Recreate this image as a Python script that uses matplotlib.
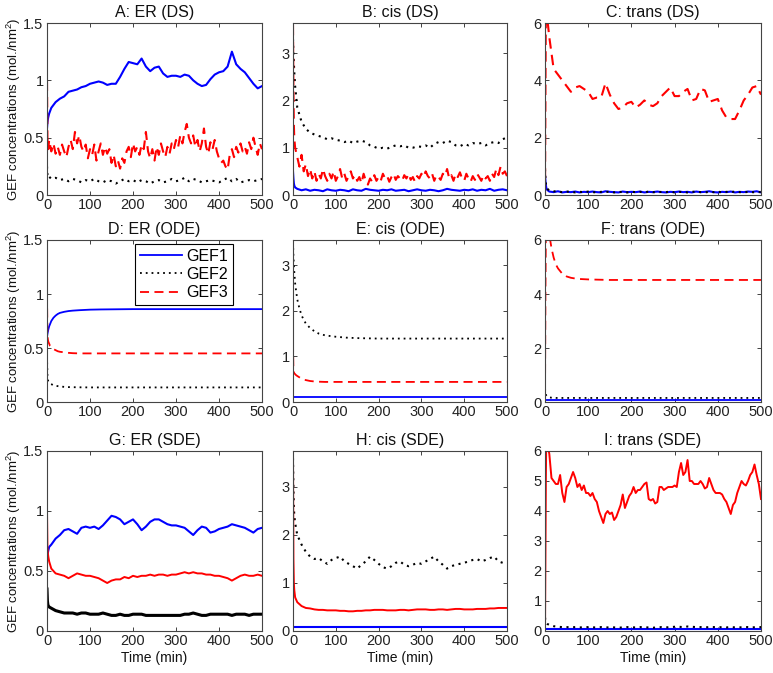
import matplotlib
matplotlib.use('Agg')
import matplotlib.pyplot as plt
from matplotlib.ticker import FuncFormatter

plt.rcParams['font.family'] = ['Liberation Sans', 'DejaVu Sans']
plt.rcParams['mathtext.default'] = 'regular'

# ---------------- time grids ----------------
t_fine = [0, 1, 2, 3] + list(range(5, 505, 5))          # 104 points
t_coarse = [0, 1, 2, 3, 5] + list(range(10, 510, 10))   # 55 points
t_ode = [0, 1, 2, 3, 5, 7, 10, 15, 20, 25, 30, 40, 50, 60, 75, 100,
         125, 150, 200, 250, 300, 350, 400, 450, 500]    # 25 points

titles = ['A: ER (DS)', 'B: cis (DS)', 'C: trans (DS)',
          'D: ER (ODE)', 'E: cis (ODE)', 'F: trans (ODE)',
          'G: ER (SDE)', 'H: cis (SDE)', 'I: trans (SDE)']
series_names = ['GEF1', 'GEF2', 'GEF3']

# ---------------- A: ER (DS) ----------------
A_gef1 = [0.58, 0.63, 0.66, 0.68, 0.71,
          0.76, 0.81, 0.84, 0.86, 0.90, 0.91, 0.92, 0.94, 0.95, 0.97,
          0.98, 0.99, 0.98, 0.96, 0.97, 0.97, 1.03, 1.10, 1.16, 1.15,
          1.14, 1.19, 1.12, 1.08, 1.11, 1.12, 1.06, 1.03, 1.04, 1.04,
          1.03, 1.05, 1.04, 1.00, 0.97, 0.95, 0.96, 1.01, 1.05, 1.07,
          1.08, 1.12, 1.25, 1.14, 1.10, 1.07, 1.02, 0.97, 0.93, 0.95]
A_gef2 = [0.25, 0.18, 0.16, 0.15, 0.16,
          0.14, 0.15, 0.13, 0.14, 0.12, 0.14, 0.13, 0.11, 0.13, 0.12,
          0.14, 0.12, 0.11, 0.13, 0.12, 0.10, 0.12, 0.14, 0.12, 0.13,
          0.11, 0.13, 0.12, 0.10, 0.12, 0.13, 0.11, 0.12, 0.14, 0.12,
          0.13, 0.15, 0.12, 0.14, 0.13, 0.11, 0.12, 0.13, 0.12, 0.11,
          0.13, 0.15, 0.12, 0.14, 0.11, 0.12, 0.13, 0.12, 0.13, 0.14]
A_gef3 = [1.00, 0.50, 0.45, 0.40,
          0.48, 0.38, 0.45, 0.36, 0.42, 0.35, 0.44, 0.38, 0.33, 0.42,
          0.48, 0.40, 0.55, 0.45, 0.52, 0.42, 0.38, 0.44, 0.32, 0.40,
          0.35, 0.44, 0.30, 0.38, 0.45, 0.35, 0.42, 0.36, 0.40, 0.28,
          0.35, 0.25, 0.30, 0.23, 0.32, 0.28, 0.38, 0.42, 0.33, 0.45,
          0.38, 0.42, 0.35, 0.44, 0.40, 0.55, 0.38, 0.32, 0.40, 0.30,
          0.42, 0.35, 0.45, 0.38, 0.33, 0.42, 0.36, 0.45, 0.40, 0.48,
          0.42, 0.52, 0.45, 0.55, 0.62, 0.50, 0.45, 0.52, 0.42, 0.48,
          0.38, 0.45, 0.58, 0.42, 0.36, 0.46, 0.40, 0.48, 0.38, 0.32,
          0.28, 0.30, 0.25, 0.22, 0.35, 0.40, 0.33, 0.42, 0.37, 0.45,
          0.38, 0.42, 0.36, 0.46, 0.40, 0.50, 0.42, 0.35, 0.45, 0.40]

# ---------------- B: cis (DS) ----------------
B_gef1 = [0.50, 0.35, 0.25, 0.20, 0.16,
          0.13, 0.10, 0.12, 0.09, 0.11, 0.10, 0.08, 0.12, 0.10, 0.09,
          0.11, 0.10, 0.08, 0.12, 0.10, 0.09, 0.13, 0.11, 0.10, 0.09,
          0.11, 0.10, 0.12, 0.09, 0.10, 0.11, 0.08, 0.10, 0.12, 0.10,
          0.09, 0.11, 0.10, 0.08, 0.10, 0.13, 0.11, 0.10, 0.09, 0.11,
          0.10, 0.12, 0.09, 0.11, 0.10, 0.13, 0.09, 0.11, 0.12, 0.10]
B_gef2 = [3.30, 3.00, 2.80, 2.60, 2.30,
          1.85, 1.55, 1.40, 1.32, 1.28, 1.25, 1.22, 1.18, 1.20, 1.17,
          1.15, 1.12, 1.15, 1.10, 1.13, 1.15, 1.12, 1.05, 1.02, 0.98,
          1.00, 0.98, 1.02, 1.05, 1.03, 1.05, 1.00, 1.00, 1.03, 1.02,
          1.05, 1.00, 1.08, 1.12, 1.10, 1.15, 1.12, 1.05, 1.03, 1.08,
          1.05, 1.10, 1.08, 1.10, 1.05, 1.10, 1.12, 1.10, 1.18, 1.22]
B_gef3 = [3.60, 2.20, 1.50, 1.20,
          1.00, 0.80, 0.60, 0.85, 0.50, 0.65, 0.40, 0.55, 0.35, 0.50,
          0.30, 0.45, 0.35, 0.55, 0.40, 0.30, 0.45, 0.35, 0.50, 0.30,
          0.40, 0.55, 0.35, 0.45, 0.30, 0.40, 0.50, 0.35, 0.42, 0.30,
          0.38, 0.25, 0.45, 0.30, 0.22, 0.35, 0.28, 0.42, 0.30, 0.38,
          0.30, 0.45, 0.35, 0.40, 0.28, 0.38, 0.45, 0.32, 0.40, 0.35,
          0.30, 0.42, 0.35, 0.45, 0.32, 0.38, 0.28, 0.40, 0.35, 0.45,
          0.38, 0.50, 0.40, 0.35, 0.45, 0.30, 0.42, 0.38, 0.32, 0.45,
          0.40, 0.55, 0.35, 0.42, 0.30, 0.45, 0.38, 0.48, 0.35, 0.30,
          0.45, 0.35, 0.28, 0.40, 0.32, 0.45, 0.38, 0.30, 0.42, 0.35,
          0.40, 0.30, 0.45, 0.38, 0.55, 0.42, 0.60, 0.45, 0.50, 0.40]

# ---------------- C: trans (DS) ----------------
C_gef1 = [0.70, 0.50, 0.35, 0.25, 0.18,
          0.12, 0.10, 0.13, 0.09, 0.11, 0.10, 0.12, 0.09, 0.11, 0.10,
          0.12, 0.10, 0.09, 0.13, 0.11, 0.10, 0.09, 0.12, 0.10, 0.11,
          0.10, 0.12, 0.09, 0.11, 0.10, 0.12, 0.10, 0.09, 0.11, 0.10,
          0.12, 0.10, 0.11, 0.09, 0.12, 0.10, 0.11, 0.13, 0.10, 0.09,
          0.11, 0.10, 0.12, 0.09, 0.11, 0.10, 0.12, 0.11, 0.13, 0.09]
C_gef2 = [0.90, 0.60, 0.40, 0.30, 0.22,
          0.16, 0.13, 0.12, 0.10, 0.12, 0.11, 0.09, 0.11, 0.10, 0.12,
          0.10, 0.09, 0.11, 0.10, 0.12, 0.09, 0.11, 0.10, 0.09, 0.11,
          0.10, 0.11, 0.09, 0.12, 0.10, 0.09, 0.11, 0.10, 0.12, 0.09,
          0.11, 0.10, 0.09, 0.11, 0.12, 0.10, 0.09, 0.11, 0.10, 0.12,
          0.09, 0.11, 0.10, 0.12, 0.10, 0.09, 0.11, 0.10, 0.09, 0.11]
C_gef3 = [0.00, 3.50, 6.50, 6.80, 6.20,
          5.50, 4.40, 4.20, 4.00, 3.80, 3.60, 3.75, 3.80, 3.70, 3.60,
          3.35, 3.40, 3.40, 3.90, 3.50, 3.20, 3.00, 3.05, 3.20, 3.25,
          3.05, 3.15, 3.30, 3.15, 3.10, 3.20, 3.45, 3.60, 3.75, 3.45,
          3.45, 3.60, 3.70, 3.30, 3.35, 3.70, 3.65, 3.25, 3.30, 3.35,
          2.95, 2.70, 2.65, 2.65, 2.95, 3.30, 3.50, 3.75, 3.80, 3.50]

# ---------------- D: ER (ODE) ----------------
D_gef1 = [0.60, 0.63, 0.65, 0.67, 0.70, 0.72, 0.75, 0.78, 0.80, 0.815,
          0.825, 0.835, 0.842, 0.846, 0.85, 0.855, 0.857, 0.858, 0.86,
          0.86, 0.86, 0.86, 0.86, 0.86, 0.86]
D_gef2 = [0.42, 0.25, 0.21, 0.19, 0.18, 0.17, 0.165, 0.155, 0.15, 0.147,
          0.144, 0.14, 0.138, 0.137, 0.136, 0.135, 0.135, 0.135, 0.135,
          0.135, 0.135, 0.135, 0.135, 0.135, 0.135]
D_gef3 = [1.00, 0.62, 0.58, 0.56, 0.54, 0.52, 0.51, 0.49, 0.48, 0.47,
          0.465, 0.46, 0.455, 0.452, 0.45, 0.45, 0.45, 0.45, 0.45,
          0.45, 0.45, 0.45, 0.45, 0.45, 0.45]

# ---------------- E: cis (ODE) ----------------
E_gef1 = [0.10] * 25
E_gef2 = [3.50, 3.20, 3.00, 2.85, 2.60, 2.45, 2.25, 2.05, 1.90, 1.80,
          1.72, 1.62, 1.55, 1.50, 1.46, 1.43, 1.41, 1.40, 1.39, 1.39,
          1.39, 1.39, 1.39, 1.39, 1.39]
E_gef3 = [1.30, 0.68, 0.65, 0.63, 0.61, 0.59, 0.57, 0.54, 0.51, 0.49,
          0.48, 0.46, 0.45, 0.445, 0.44, 0.44, 0.44, 0.44, 0.44, 0.44,
          0.44, 0.44, 0.44, 0.44, 0.44]

# ---------------- F: trans (ODE) ----------------
F_gef1 = [0.07] * 25
F_gef2 = [0.50, 0.35, 0.28, 0.24, 0.20, 0.18, 0.17, 0.16, 0.155, 0.15,
          0.15, 0.15, 0.15, 0.15, 0.15, 0.15, 0.15, 0.15, 0.15, 0.15,
          0.15, 0.15, 0.15, 0.15, 0.15]
F_gef3 = [0.00, 4.00, 6.30, 6.50, 6.50, 6.40, 6.20, 5.70, 5.35, 5.10,
          4.95, 4.75, 4.65, 4.60, 4.56, 4.54, 4.53, 4.52, 4.52, 4.52,
          4.52, 4.52, 4.52, 4.52, 4.52]

# ---------------- G: ER (SDE) ----------------
G_gef1 = [0.60, 0.63, 0.65, 0.67, 0.70,
          0.72, 0.77, 0.80, 0.84, 0.85, 0.83, 0.81, 0.86, 0.87, 0.86,
          0.87, 0.85, 0.88, 0.92, 0.96, 0.95, 0.93, 0.89, 0.91, 0.93,
          0.89, 0.84, 0.87, 0.91, 0.93, 0.93, 0.91, 0.89, 0.88, 0.88,
          0.87, 0.86, 0.83, 0.80, 0.84, 0.87, 0.86, 0.82, 0.83, 0.85,
          0.86, 0.87, 0.89, 0.88, 0.87, 0.86, 0.84, 0.82, 0.85, 0.86]
G_gef2 = [0.35, 0.25, 0.22, 0.21, 0.20,
          0.19, 0.17, 0.16, 0.15, 0.15, 0.15, 0.14, 0.15, 0.15, 0.14,
          0.14, 0.14, 0.15, 0.14, 0.13, 0.13, 0.14, 0.13, 0.13, 0.14,
          0.14, 0.14, 0.13, 0.13, 0.13, 0.13, 0.13, 0.13, 0.13, 0.13,
          0.13, 0.14, 0.14, 0.15, 0.14, 0.13, 0.13, 0.14, 0.14, 0.14,
          0.14, 0.14, 0.13, 0.14, 0.14, 0.14, 0.13, 0.14, 0.14, 0.14]
G_gef3 = [1.00, 0.70, 0.65, 0.62, 0.58,
          0.52, 0.48, 0.47, 0.46, 0.44, 0.46, 0.48, 0.47, 0.46, 0.46,
          0.45, 0.44, 0.42, 0.40, 0.42, 0.43, 0.43, 0.45, 0.44, 0.46,
          0.45, 0.46, 0.46, 0.47, 0.46, 0.47, 0.47, 0.46, 0.47, 0.47,
          0.48, 0.49, 0.48, 0.49, 0.48, 0.48, 0.47, 0.47, 0.46, 0.46,
          0.45, 0.44, 0.42, 0.44, 0.46, 0.47, 0.46, 0.46, 0.47, 0.46]

# ---------------- H: cis (SDE) ----------------
H_gef1 = [0.09] * 25
H_gef2 = [3.60, 3.00, 2.60, 2.40, 2.25,
          2.00, 1.80, 1.65, 1.55, 1.50, 1.52, 1.45, 1.40, 1.48, 1.52,
          1.55, 1.45, 1.40, 1.35, 1.30, 1.38, 1.45, 1.55, 1.48, 1.40,
          1.33, 1.30, 1.35, 1.42, 1.45, 1.38, 1.35, 1.38, 1.42, 1.40,
          1.45, 1.50, 1.55, 1.45, 1.38, 1.30, 1.35, 1.38, 1.40, 1.42,
          1.45, 1.48, 1.50, 1.45, 1.48, 1.52, 1.55, 1.45, 1.42, 1.40]
H_gef3 = [3.70, 1.50, 1.00, 0.85, 0.70,
          0.60, 0.52, 0.48, 0.47, 0.45, 0.44, 0.44, 0.43, 0.43, 0.43,
          0.42, 0.42, 0.41, 0.41, 0.42, 0.42, 0.43, 0.43, 0.44, 0.44,
          0.44, 0.43, 0.43, 0.43, 0.44, 0.44, 0.43, 0.44, 0.45, 0.45,
          0.45, 0.44, 0.44, 0.45, 0.45, 0.44, 0.45, 0.46, 0.46, 0.45,
          0.45, 0.45, 0.46, 0.46, 0.46, 0.47, 0.47, 0.48, 0.48, 0.48]

# ---------------- I: trans (SDE) ----------------
I_gef1 = [0.06] * 25
I_gef2 = [0.45, 0.35, 0.30, 0.27, 0.24,
          0.20, 0.16, 0.14, 0.13, 0.13, 0.12, 0.13, 0.12, 0.12, 0.13,
          0.12, 0.12, 0.13, 0.12, 0.12, 0.12, 0.11, 0.12, 0.13, 0.12,
          0.12, 0.13, 0.12, 0.12, 0.11, 0.12, 0.13, 0.12, 0.13, 0.14,
          0.14, 0.13, 0.15, 0.14, 0.13, 0.13, 0.12, 0.13, 0.13, 0.12,
          0.13, 0.12, 0.13, 0.12, 0.12, 0.13, 0.13, 0.12, 0.13, 0.13]
I_gef3 = [0.00, 2.50, 5.00, 6.50,
          6.30, 5.90, 5.10, 5.00, 4.90, 4.90, 5.20, 4.60, 4.30, 4.80,
          4.90, 5.10, 5.30, 5.10, 4.80, 4.90, 4.70, 4.85, 4.60, 4.60,
          4.50, 4.60, 4.40, 4.30, 4.00, 3.80, 3.60, 3.90, 4.00, 3.90,
          3.95, 3.70, 3.80, 4.00, 4.20, 4.55, 4.10, 4.30, 4.50, 4.60,
          4.80, 4.60, 4.70, 4.70, 4.80, 4.90, 4.95, 4.40, 4.35, 4.40,
          4.25, 4.30, 4.80, 4.80, 4.70, 4.75, 4.80, 4.80, 4.80, 4.85,
          4.80, 5.30, 5.60, 5.20, 5.30, 5.70, 5.00, 5.00, 4.90, 4.90,
          4.90, 5.00, 4.90, 4.75, 4.80, 5.10, 4.90, 4.70, 4.60, 4.60,
          4.60, 4.55, 4.40, 4.30, 4.10, 3.90, 4.20, 4.30, 4.60, 4.80,
          5.00, 4.90, 4.85, 5.00, 5.20, 5.30, 5.55, 5.20, 4.90, 4.40]

# axis settings
ylims = [(0, 1.5), (0, 3.64), (0, 6),
         (0, 1.5), (0, 3.55), (0, 6),
         (0, 1.5), (0, 3.75), (0, 6)]
yticks_list = [[0, 0.5, 1, 1.5], [0, 1, 2, 3], [0, 2, 4, 6],
               [0, 0.5, 1, 1.5], [0, 1, 2, 3], [0, 2, 4, 6],
               [0, 0.5, 1, 1.5], [0, 1, 2, 3], [0, 1, 2, 3, 4, 5, 6]]

panel_data = [
    [(t_coarse, A_gef1), (t_coarse, A_gef2), (t_fine, A_gef3)],
    [(t_coarse, B_gef1), (t_coarse, B_gef2), (t_fine, B_gef3)],
    [(t_coarse, C_gef1), (t_coarse, C_gef2), (t_coarse, C_gef3)],
    [(t_ode, D_gef1), (t_ode, D_gef2), (t_ode, D_gef3)],
    [(t_ode, E_gef1), (t_ode, E_gef2), (t_ode, E_gef3)],
    [(t_ode, F_gef1), (t_ode, F_gef2), (t_ode, F_gef3)],
    [(t_coarse, G_gef1), (t_coarse, G_gef2), (t_coarse, G_gef3)],
    [(t_ode, H_gef1), (t_coarse, H_gef2), (t_coarse, H_gef3)],
    [(t_ode, I_gef1), (t_coarse, I_gef2), (t_fine, I_gef3)],
]

colors = ['#0000ff', '#000000', '#ff0000']
styles = ['-', (0, (1.0, 2.2)), (0, (5, 3))]

W, H = 773, 673
col_px = [(47, 215), (293, 214), (545, 216)]
row_px = [(23, 172), (240, 162), (451, 180)]

fig = plt.figure(figsize=(W / 100, H / 100), dpi=100)
fmt = FuncFormatter(lambda v, p: '%g' % v)

for i in range(9):
    r, c = divmod(i, 3)
    x0, w = col_px[c]
    y0, h = row_px[r]
    ax = fig.add_axes([x0 / W, 1 - (y0 + h) / H, w / W, h / H])
    is_ode = (r == 1)
    for k, (t, y) in enumerate(panel_data[i]):
        lw = 1.3 if is_ode else 1.5
        ls = styles[k]
        if r == 2 and k == 2:
            # dense SDE trace renders as an (almost) continuous line
            ls = '-'
            lw = 1.4
        if k == 1 and r == 2 and c == 0:
            ls = '-'
            lw = 2.2
        ax.plot(t, y, color=colors[k], linestyle=ls, linewidth=lw,
                label=series_names[k])
    ax.set_xlim(0, 500)
    ax.set_ylim(*ylims[i])
    ax.set_xticks(range(0, 501, 100))
    ax.set_yticks(yticks_list[i])
    ax.yaxis.set_major_formatter(fmt)
    ax.tick_params(direction='in', length=3, width=0.6, top=True, right=True,
                   labelsize=10.5, colors='#222222', pad=2.5)
    for s in ax.spines.values():
        s.set_color('#444444')
        s.set_linewidth(0.8)
    ax.set_title(titles[i], fontsize=11.5, pad=4, color='#111111')
    if c == 0:
        ax.set_ylabel('GEF concentrations (mol./nm$^2$)', fontsize=9.5,
                      color='#111111')
        ax.yaxis.set_label_coords(-0.11, 0.5)
    if r == 2:
        ax.set_xlabel('Time (min)', fontsize=10, color='#111111', labelpad=2)
    if i == 3:
        leg = ax.legend(loc='upper right', bbox_to_anchor=(0.865, 0.975),
                        fontsize=11.5, frameon=True, fancybox=False,
                        edgecolor='#000000', framealpha=1, handlelength=2.6,
                        borderpad=0.3, labelspacing=0.2, handletextpad=0.3,
                        borderaxespad=0)
        leg.get_frame().set_linewidth(0.8)

fig.savefig('out.png', dpi=100)
